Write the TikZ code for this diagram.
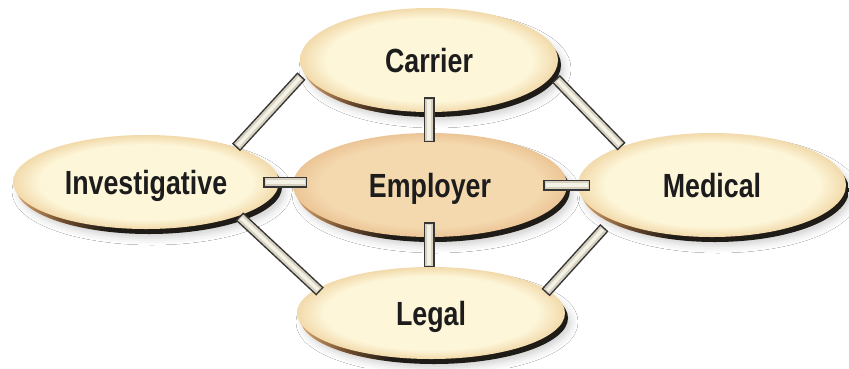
\documentclass[tikz,border=0pt]{standalone}
\usepackage{fontspec}
\newfontfamily\labelfont{Liberation Sans}[FakeStretch=0.8]
\usetikzlibrary{shapes.geometric,shadows.blur}

% palette
\definecolor{cream}{HTML}{FDF6D9}
\definecolor{creamedge}{HTML}{F2DAAB}
\definecolor{peach}{HTML}{F4D9AF}
\definecolor{peachedge}{HTML}{ECC596}
\definecolor{rimtan}{HTML}{D9A56B}
\definecolor{rimbrown}{HTML}{6E4B2C}
\definecolor{rimdark}{HTML}{1F1B17}
\definecolor{barink}{HTML}{363636}
\definecolor{barbody}{HTML}{D8D1BF}
\definecolor{barshine}{HTML}{F4F1E7}
\definecolor{labelink}{HTML}{1C1C1C}

% faces and the dark side band under each disc
\pgfdeclareradialshading{creamface}{\pgfpoint{0bp}{0bp}}{color(0bp)=(cream); color(20bp)=(cream); color(25bp)=(creamedge); color(50bp)=(creamedge)}
\pgfdeclareradialshading{peachface}{\pgfpoint{0bp}{0bp}}{color(0bp)=(peach); color(20bp)=(peach); color(25bp)=(peachedge); color(50bp)=(peachedge)}
\pgfdeclarehorizontalshading{rimshade}{100bp}{color(0bp)=(rimtan); color(25bp)=(rimtan); color(34bp)=(rimbrown); color(42bp)=(rimdark); color(100bp)=(rimdark)}

\tikzset{
  face/.style={ellipse, inner sep=0pt, outer sep=0pt, text=labelink,
    font=\labelfont\bfseries\fontsize{33.5}{40}\selectfont,
    text height=24pt, text depth=0pt},
  rim/.style={shading=rimshade,
    blur shadow={shadow xshift=3pt, shadow yshift=-4pt,
      shadow blur radius=7pt, shadow opacity=18}},
  barouter/.style={draw=barink, line width=11pt},
  barinner/.style={draw=barbody, line width=8pt},
  barhigh/.style={draw=barshine, line width=3.5pt},
}

% disc: name, x, y, x radius, y radius, face shading, label
\newcommand\disc[7]{%
  \path[rim] (#2+3,#3+5) ellipse [x radius=#4, y radius=#5];
  \node[face, shading=#6, minimum width=2*#4, minimum height=2*#5] (#1) at (#2,#3) {#7};
}

% link bar between two points, with end adjustments (negative = longer)
\newcommand\linkbar[4]{%
  \pgfmathsetmacro\lbA{#3+1.5}\pgfmathsetmacro\lbB{#4+1.5}%
  \pgfmathsetmacro\lbC{#3+2.5}\pgfmathsetmacro\lbD{#4+2.5}%
  \draw[barouter, shorten <=#3pt, shorten >=#4pt] #1 -- #2;
  \draw[barinner, shorten <=\lbA pt, shorten >=\lbB pt] #1 -- #2;
  \draw[barhigh, shorten <=\lbC pt, shorten >=\lbD pt] #1 -- #2;
}

\begin{document}
\begin{tikzpicture}[x=1pt, y=-1pt]
  \useasboundingbox (0,0) rectangle (849,368);
  \fill[white] (0,0) rectangle (849,368);

  \disc{car}{429}{60}{129}{52}{creamface}{Carrier}
  \disc{inv}{146}{182}{133}{47}{creamface}{Investigative}
  \disc{emp}{430}{185}{137}{52}{peachface}{Employer}
  \disc{med}{712}{185}{134}{52}{creamface}{Medical}
  \disc{leg}{431}{313}{134}{46}{creamface}{Legal}

  % outer ring
  \linkbar{(inv.21.25)}{(car.186.65)}{0}{4}
  \linkbar{(car.-7.24)}{(med.157.1)}{5}{0}
  \linkbar{(inv.-20.8)}{(leg.168.7)}{1}{-4}
  \linkbar{(med.199)}{(leg.11.4)}{11}{-3}
  % spokes to the centre
  \linkbar{(car.south)}{(car.south |- emp.north)}{-15}{-9}
  \linkbar{(car.south |- emp.south)}{(car.south |- leg.north)}{-15}{0}
  \linkbar{(inv.east)}{(inv.east -| emp.west)}{-16}{-14}
  \linkbar{(emp.east)}{(emp.east -| med.west)}{-24}{-12}
\end{tikzpicture}
\end{document}
